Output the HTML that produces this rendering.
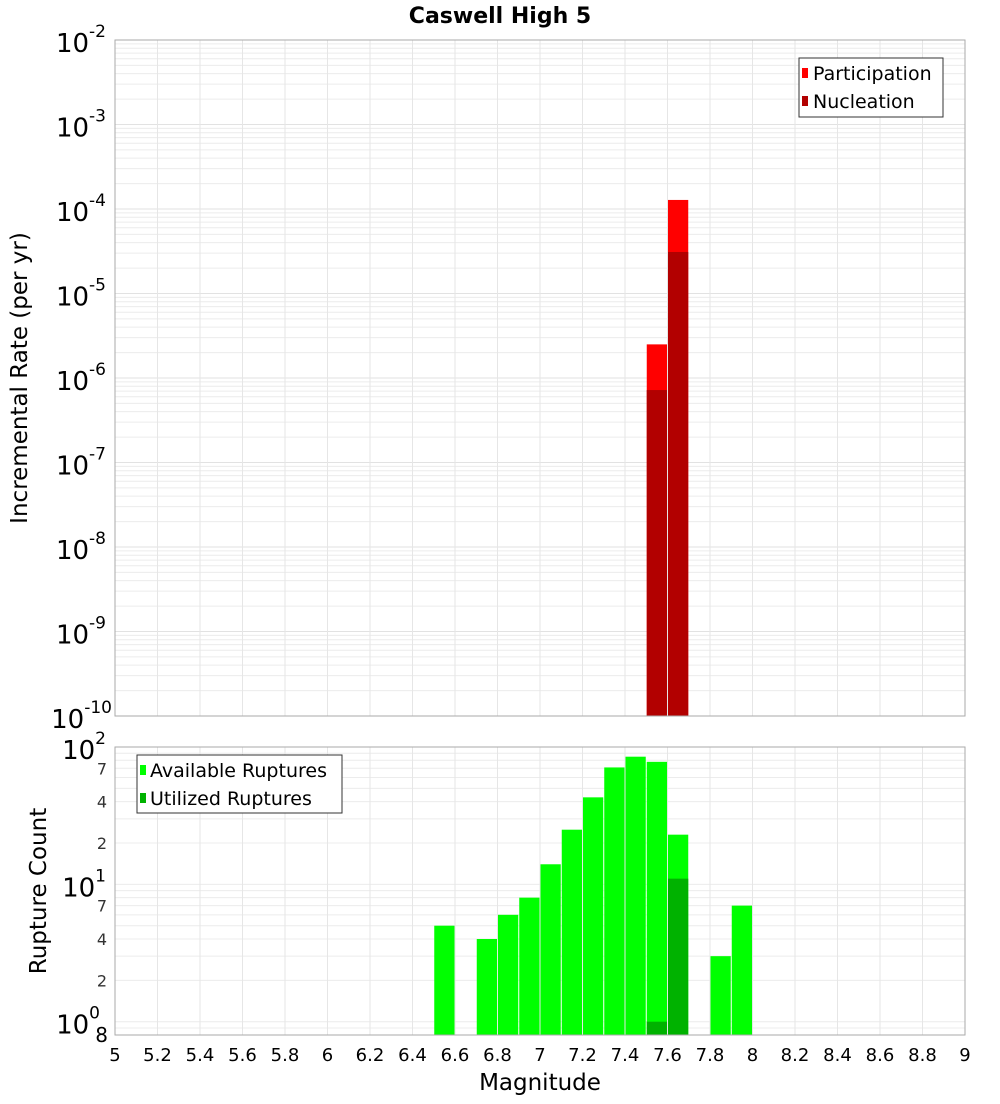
<!DOCTYPE html>
<html><head><meta charset="utf-8"><style>
body{margin:0;background:#fff;font-family:"DejaVu Sans","Liberation Sans",sans-serif;}
svg text{font-family:"DejaVu Sans","Liberation Sans",sans-serif;}
</style></head><body>
<svg id="c" width="1000" height="1100" xmlns="http://www.w3.org/2000/svg"></svg>
<script>
const topBins=[7.55,7.65];
const participation=[2.5e-6,1.28e-4];
const nucleation=[7.2e-7,3.1e-5];
const botBins=[6.55,6.75,6.85,6.95,7.05,7.15,7.25,7.35,7.45,7.55,7.65,7.85,7.95];
const available=[5,4,6,8,14,25,43,71,85,78,23,3,7];
const utilBins=[7.55,7.65];
const utilized=[1,11];
const xTicks=[5,5.2,5.4,5.6,5.8,6,6.2,6.4,6.6,6.8,7,7.2,7.4,7.6,7.8,8,8.2,8.4,8.6,8.8,9];
const topDecades=[-10,-9,-8,-7,-6,-5,-4,-3,-2];
const botMinorLabels=[2,4,7];

const NS="http://www.w3.org/2000/svg";
const svg=document.getElementById('c');
function el(t,a,p){const e=document.createElementNS(NS,t);for(const k in a)e.setAttribute(k,a[k]);(p||svg).appendChild(e);return e;}
const X0=115,X1=965;
const xs=v=>X0+(v-5)/(9-5)*(X1-X0);
const T0=40,T1=716;
const ty=v=>T0+(-2-Math.log10(v))/8*(T1-T0);
const B0=747,B1=1035,BL=Math.log10(0.8);
const by=v=>B0+(2-Math.log10(v))/(2-BL)*(B1-B0);

const gt=el('g',{});

for(const d of topDecades){for(let m=1;m<10;m++){const v=m*Math.pow(10,d);if(v>1e-2)break;const y=ty(v);el('line',{x1:X0,x2:X1,y1:y,y2:y,stroke:m==1?'#e2e2e2':'#ececec','stroke-width':1},gt);}}
for(const t of xTicks){el('line',{x1:xs(t),x2:xs(t),y1:T0,y2:T1,stroke:'#e6e6e6'},gt);}
const gb=el('g',{});

for(const d of [-1,0,1]){for(let m=1;m<10;m++){const v=m*Math.pow(10,d);if(v<0.8||v>100)continue;const y=by(v);el('line',{x1:X0,x2:X1,y1:y,y2:y,stroke:'#ececec'},gb);}}
el('line',{x1:X0,x2:X1,y1:by(100),y2:by(100),stroke:'#ececec'},gb);
for(const t of xTicks){el('line',{x1:xs(t),x2:xs(t),y1:B0,y2:B1,stroke:'#e6e6e6'},gb);}

topBins.forEach((b,i)=>{
 let r=el('rect',{x:xs(b-0.05)+0.5,width:xs(b+0.05)-xs(b-0.05)-1,y:ty(participation[i]),height:T1-ty(participation[i]),fill:'#ff0000'});
 
 r=el('rect',{x:xs(b-0.05)+0.5,width:xs(b+0.05)-xs(b-0.05)-1,y:ty(nucleation[i]),height:T1-ty(nucleation[i]),fill:'#b20000'});
 
});
botBins.forEach((b,i)=>{
 const r=el('rect',{x:xs(b-0.05)+0.5,width:xs(b+0.05)-xs(b-0.05)-1,y:by(available[i]),height:B1-by(available[i]),fill:'#00ff00'});
 
});
utilBins.forEach((b,i)=>{
 const r=el('rect',{x:xs(b-0.05)+0.5,width:xs(b+0.05)-xs(b-0.05)-1,y:by(utilized[i]),height:B1-by(utilized[i]),fill:'#00b200'});
 
});
el('rect',{x:X0,y:T0,width:X1-X0,height:T1-T0,fill:'none',stroke:'#aaa'});
el('rect',{x:X0,y:B0,width:X1-X0,height:B1-B0,fill:'none',stroke:'#aaa'});

for(const d of topDecades){const y=ty(Math.pow(10,d));
 const t=el('text',{x:d==-10?112:106,y:y+12,'text-anchor':'end','font-size':26,fill:'#000'});
 
 t.textContent='10';const s=el('tspan',{dy:-15,'font-size':17},t);s.textContent=String(d);}
for(const d of [0,1,2]){const y=by(Math.pow(10,d));
 const t=el('text',{x:106-(d==0?6:0),y:y+12,'text-anchor':'end','font-size':26,fill:'#000'});
 
 t.textContent='10';const s=el('tspan',{dy:-15,'font-size':17},t);s.textContent=String(d);}
for(const d of [0,1]){for(const m of botMinorLabels){const y=by(m*Math.pow(10,d));
 const t=el('text',{x:107,y:y+6,'text-anchor':'end','font-size':16,fill:'#333'});
 t.textContent=String(m);}}
{const t=el('text',{x:108,y:1042,'text-anchor':'end','font-size':20,fill:'#000'});t.textContent='8';}
for(const v of xTicks){const t=el('text',{x:xs(v),y:1061,'text-anchor':'middle','font-size':18,fill:'#000'});
 t.textContent=String(v);}
</script>
<svg style="position:absolute;left:0;top:0" width="1000" height="1100" xmlns="http://www.w3.org/2000/svg">
<text x="500" y="23" text-anchor="middle" font-size="22" font-weight="bold">Caswell High 5</text>
<text transform="translate(27,378) rotate(-90)" text-anchor="middle" font-size="23">Incremental Rate (per yr)</text>
<text transform="translate(46,891) rotate(-90)" text-anchor="middle" font-size="23">Rupture Count</text>
<text x="540" y="1090" text-anchor="middle" font-size="23">Magnitude</text>
<g>
<rect x="799" y="58" width="144" height="59" fill="#fff" stroke="#333"/>
<rect x="802" y="68" width="6" height="10" fill="#ff0000"/>
<text x="813" y="80" font-size="19">Participation</text>
<rect x="802" y="96" width="6" height="10" fill="#b20000"/>
<text x="813" y="108" font-size="19">Nucleation</text>
</g>
<g>
<rect x="137" y="755" width="205" height="58" fill="#fff" stroke="#333"/>
<rect x="140" y="765" width="6" height="10" fill="#00ff00"/>
<text x="150" y="777" font-size="19">Available Ruptures</text>
<rect x="140" y="793" width="6" height="10" fill="#00b200"/>
<text x="150" y="805" font-size="19">Utilized Ruptures</text>
</g>
</svg>
</body></html>
